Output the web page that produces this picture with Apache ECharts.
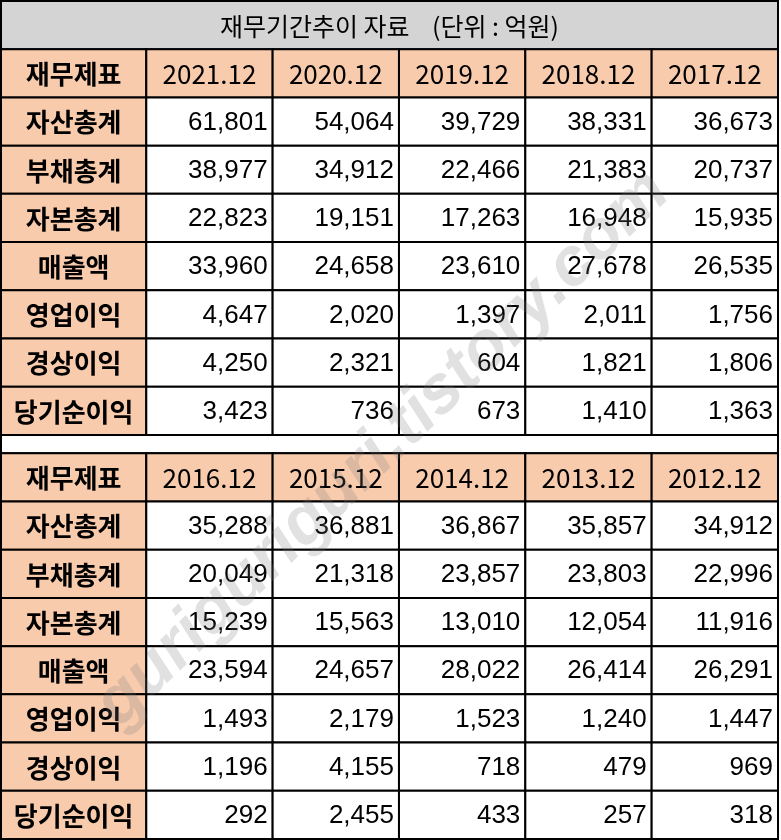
<!DOCTYPE html>
<html><head><meta charset="utf-8">
<script src="https://cdn.jsdelivr.net/npm/echarts@6/dist/echarts.min.js"></script>
<style>html,body{margin:0;padding:0;background:#fff}#c{width:781px;height:840px}</style>
</head><body><div id="c"></div>
<script>
const title = '재무기간추이 자료    (단위 : 억원)';
const rowLabels = ['자산총계','부채총계','자본총계','매출액','영업이익','경상이익','당기순이익'];
const headerLabel = '재무제표';
const years1 = ['2021.12','2020.12','2019.12','2018.12','2017.12'];
const years2 = ['2016.12','2015.12','2014.12','2013.12','2012.12'];
const values1 = [
  ['61,801','54,064','39,729','38,331','36,673'],
  ['38,977','34,912','22,466','21,383','20,737'],
  ['22,823','19,151','17,263','16,948','15,935'],
  ['33,960','24,658','23,610','27,678','26,535'],
  ['4,647','2,020','1,397','2,011','1,756'],
  ['4,250','2,321','604','1,821','1,806'],
  ['3,423','736','673','1,410','1,363']
];
const values2 = [
  ['35,288','36,881','36,867','35,857','34,912'],
  ['20,049','21,318','23,857','23,803','22,996'],
  ['15,239','15,563','13,010','12,054','11,916'],
  ['23,594','24,657','28,022','26,414','26,291'],
  ['1,493','2,179','1,523','1,240','1,447'],
  ['1,196','4,155','718','479','969'],
  ['292','2,455','433','257','318']
];

const firstW = 1.15;
const colEdge = i => i === 0 ? 0 : firstW + (i - 1);
const totalW = firstW + 5;
const cells = [];
let y = 0;
cells.push([0, totalW, y, y + 1, title, 'title']); y += 1;
function block(years, vals) {
  cells.push([0, colEdge(1), y, y + 1, headerLabel, 'head']);
  years.forEach((t, i) => cells.push([colEdge(i + 1), colEdge(i + 2), y, y + 1, t, 'head']));
  y += 1;
  vals.forEach((r, ri) => {
    cells.push([0, colEdge(1), y, y + 1, rowLabels[ri], 'label']);
    r.forEach((v, i) => cells.push([colEdge(i + 1), colEdge(i + 2), y, y + 1, v, 'num']));
    y += 1;
  });
}
block(years1, values1);
cells.push([0, totalW, y, y + 0.38, '', 'gap']); y += 0.38;
block(years2, values2);
const totalH = y;

const chart = echarts.init(document.getElementById('c'));
chart.setOption({
  animation: false,
  grid: {left: 1, right: 3, top: 1, bottom: 1},
  xAxis: {type: 'value', min: 0, max: totalW, show: false},
  yAxis: {type: 'value', min: 0, max: totalH, inverse: true, show: false},
  series: [{
    type: 'custom',
    data: cells,
    renderItem: (params, api) => {
      const d = cells[params.dataIndex];
      const p0 = api.coord([d[0], d[2]]), p1 = api.coord([d[1], d[3]]);
      const w = p1[0] - p0[0], h = p1[1] - p0[1];
      const kind = d[5];
      const fill = kind === 'title' ? '#d4d4d4' : (kind === 'head' || kind === 'label') ? '#f8cbad' : '#ffffff';
      const isNum = kind === 'num';
      const font = isNum ? '"Liberation Sans Narrow","Arial Narrow","Liberation Sans",sans-serif' : '"Noto Sans CJK KR",sans-serif';
      return {
        type: 'group',
        children: [
          {type: 'rect', shape: {x: p0[0], y: p0[1], width: w, height: h},
           style: {fill: fill, stroke: '#000', lineWidth: 2}},
          {type: 'text', style: {
            text: d[4],
            x: isNum ? p1[0] - 5 : p0[0] + w / 2,
            y: p0[1] + h / 2 + 1,
            align: isNum ? 'right' : 'center',
            verticalAlign: 'middle',
            fontFamily: font,
            fontSize: kind === 'title' ? 25 : 26,
            fontWeight: (kind === 'label' || kind === 'head' && d[4] === headerLabel) ? 'bold' : 'normal',
            fill: '#000'
          }}
        ]
      };
    }
  }],
  graphic: [{
    type: 'text', x: 130, y: 740, rotation: Math.PI / 180 * 44, z: 100,
    style: {text: 'guriguriguri.tistory.com', fontSize: 68, fontWeight: 'bold', fontStyle: 'italic',
      fontFamily: '"Liberation Sans",sans-serif', fill: 'rgba(120,120,120,0.22)', verticalAlign: 'bottom'}
  }]
});
</script></body></html>
